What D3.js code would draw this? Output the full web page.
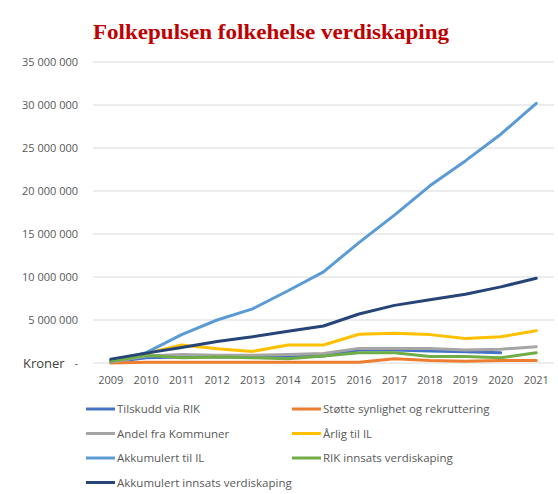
<!DOCTYPE html>
<html>
<head>
<meta charset="utf-8">
<script src="https://cdn.jsdelivr.net/npm/d3@7"></script>
<style>
  body { margin: 0; background: #fff; }
  svg { display: block; }
</style>
</head>
<body>
<div class="viewbox"></div>
<script>
// years on the x axis
const years = ["2009", "2010", "2011", "2012", "2013", "2014", "2015", "2016", "2017", "2018", "2019", "2020", "2021"];

// series values, in kroner
const tilskuddRIK = [100000, 600000, 700000, 700000, 700000, 700000, 800000, 1500000, 1500000, 1400000, 1300000, 1200000, null];
const stotteSynlighet = [0, 100000, 100000, 100000, 100000, 100000, 100000, 100000, 500000, 300000, 200000, 300000, 300000];
const andelKommuner = [100000, 800000, 1000000, 900000, 900000, 1000000, 1100000, 1700000, 1700000, 1700000, 1500000, 1600000, 1900000];
const arligIL = [200000, 1100000, 2100000, 1650000, 1350000, 2100000, 2100000, 3350000, 3450000, 3300000, 2850000, 3050000, 3750000];
const akkumulertIL = [200000, 1200000, 3300000, 5000000, 6300000, 8400000, 10600000, 14000000, 17200000, 20600000, 23500000, 26600000, 30200000];
const rikInnsats = [200000, 900000, 600000, 700000, 600000, 500000, 800000, 1200000, 1200000, 750000, 750000, 600000, 1200000];
const akkumulertInnsats = [450000, 1150000, 1800000, 2500000, 3050000, 3700000, 4300000, 5700000, 6700000, 7350000, 8000000, 8850000, 9850000];

const seriesNames = ["Tilskudd via RIK", "Støtte synlighet og rekruttering", "Andel fra Kommuner",
  "Årlig til IL", "Akkumulert til IL", "RIK innsats verdiskaping", "Akkumulert innsats verdiskaping"];
const seriesValues = [tilskuddRIK, stotteSynlighet, andelKommuner, arligIL, akkumulertIL, rikInnsats, akkumulertInnsats];
const seriesColors = ["#4472C4", "#ED7D31", "#A5A5A5", "#FFC000", "#5B9BD5", "#70AD47", "#264478"];

const yTicks = [0, 5000000, 10000000, 15000000, 20000000, 25000000, 30000000, 35000000];

const width = 558;
const height = 494;
const margin = { top: 62, right: 4, bottom: 131, left: 93 };

const svg = d3.select(".viewbox")
  .append("svg")
  .attr("width", width)
  .attr("height", height);

// title
svg.append("text")
  .attr("x", 271)
  .attr("y", 39)
  .attr("text-anchor", "middle")
  .attr("textLength", 356)
  .attr("lengthAdjust", "spacingAndGlyphs")
  .style("font-family", "'Liberation Serif', serif")
  .style("font-weight", "bold")
  .style("font-size", "21px")
  .style("fill", "#C00000")
  .text("Folkepulsen folkehelse verdiskaping");

const x = d3.scaleBand()
  .domain(years)
  .range([margin.left, width - margin.right]);

const y = d3.scaleLinear()
  .domain([0, 35000000])
  .range([height - margin.bottom, margin.top]);

// gridlines
svg.append("g")
  .selectAll("line")
  .data(yTicks)
  .enter()
  .append("line")
  .attr("x1", margin.left)
  .attr("x2", width - margin.right)
  .attr("y1", d => y(d))
  .attr("y2", d => y(d))
  .attr("stroke", "#d9d9d9")
  .attr("stroke-width", 1);

// y axis labels, space as thousand separator, "-" for zero
const fmt = d => d === 0 ? "-" : d3.format(",")(d).replace(/,/g, "\u00a0");
svg.append("g")
  .selectAll("text")
  .data(yTicks)
  .enter()
  .append("text")
  .attr("x", 78)
  .attr("y", d => y(d))
  .attr("dy", "0.35em")
  .attr("text-anchor", "end")
  .style("font-family", "'Open Sans', sans-serif")
  .style("font-size", "11px")
  .style("fill", "#595959")
  .text(fmt);

svg.append("text")
  .attr("x", 23)
  .attr("y", y(0))
  .attr("dy", "0.38em")
  .style("font-family", "'Open Sans', sans-serif")
  .style("font-size", "13px")
  .style("fill", "#404040")
  .text("Kroner");

// x axis labels
svg.append("g")
  .selectAll("text")
  .data(years)
  .enter()
  .append("text")
  .attr("x", d => x(d) + x.bandwidth() / 2)
  .attr("y", 380)
  .attr("dy", "0.35em")
  .attr("text-anchor", "middle")
  .style("font-family", "'Open Sans', sans-serif")
  .style("font-size", "11px")
  .style("fill", "#595959")
  .text(d => d);

// lines
const line = d3.line()
  .defined(d => d.v !== null)
  .x(d => x(d.year) + x.bandwidth() / 2)
  .y(d => y(d.v));

svg.append("g")
  .selectAll("path")
  .data(seriesValues)
  .enter()
  .append("path")
  .attr("d", vals => line(vals.map((v, i) => ({ year: years[i], v: v }))))
  .attr("fill", "none")
  .attr("stroke", (d, i) => seriesColors[i])
  .attr("stroke-width", 3)
  .attr("stroke-linejoin", "round")
  .attr("stroke-linecap", "round");

// legend, two columns
const legend = svg.append("g")
  .selectAll("g")
  .data(seriesNames)
  .enter()
  .append("g")
  .attr("transform", (d, i) => {
    let col = i % 2;
    let row = Math.floor(i / 2);
    return "translate(" + (col === 0 ? 86 : 292) + "," + (409 + row * 24.5) + ")";
  });

legend.append("line")
  .attr("x1", 0)
  .attr("x2", 29)
  .attr("stroke", (d, i) => seriesColors[i])
  .attr("stroke-width", 3);

legend.append("text")
  .attr("x", 31)
  .attr("dy", "0.35em")
  .style("font-family", "'Open Sans', sans-serif")
  .style("font-size", "11.5px")
  .style("fill", "#595959")
  .text(d => d);
</script>
</body>
</html>
